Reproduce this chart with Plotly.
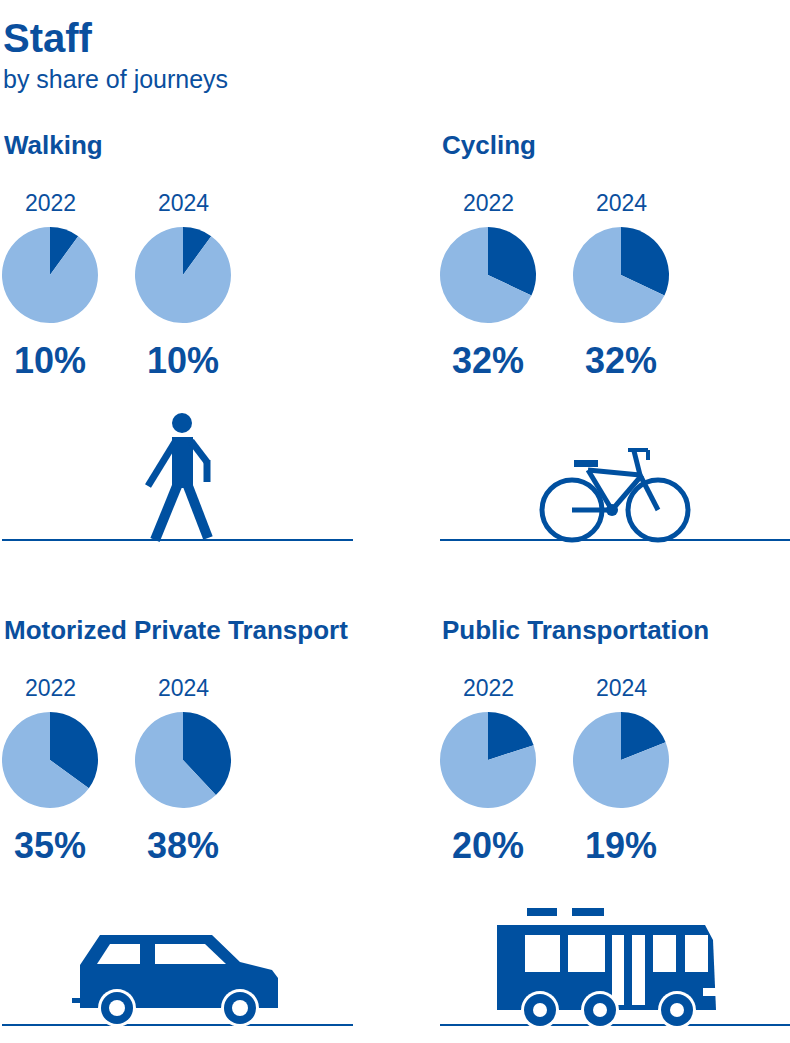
import plotly.graph_objects as go

W, H = 790, 1043
DARK = "#0050a0"
LIGHT = "#8fb8e4"
TXT = "#0a4f9e"
FONT = "Liberation Sans"

modes = ["Walking", "Cycling", "Motorized Private Transport", "Public Transportation"]
years = ["2022", "2024"]
share_2022 = [10, 32, 35, 20]
share_2024 = [10, 32, 38, 19]

col_x = [2, 440]
row_y = [145, 630]
pie_dx = [50, 183]
R = 48

fig = go.Figure()
ann = []
shapes = []

def dom(cx, cy):
    return dict(x=[(cx - R) / W, (cx + R) / W], y=[1 - (cy + R) / H, 1 - (cy - R) / H])

for i, m in enumerate(modes):
    bx, by = col_x[i % 2], row_y[i // 2]
    ann.append(dict(x=bx, y=by, text=f"<b>{m}</b>", font=dict(size=26, color=TXT, family=FONT),
                    xanchor="left", yanchor="middle", showarrow=False))
    for j, vals in enumerate([share_2022, share_2024]):
        cx = bx - 2 + pie_dx[j]
        cy = by + 130
        p = vals[i]
        fig.add_trace(go.Pie(values=[p, 100 - p], sort=False, direction="clockwise", rotation=0,
                             marker=dict(colors=[DARK, LIGHT], line=dict(width=0)),
                             textinfo="none", hoverinfo="skip", showlegend=False, domain=dom(cx, cy)))
        ann.append(dict(x=cx, y=by + 58, text=years[j], font=dict(size=23, color=TXT, family=FONT),
                        xanchor="center", yanchor="middle", showarrow=False))
        ann.append(dict(x=cx, y=by + 215, text=f"<b>{p}%</b>", font=dict(size=36, color=TXT, family=FONT),
                        xanchor="center", yanchor="middle", showarrow=False))

ann.append(dict(x=1, y=38, text="<b>Staff</b>", font=dict(size=40, color=TXT, family=FONT),
                xanchor="left", yanchor="middle", showarrow=False))
ann.append(dict(x=1, y=79, text="by share of journeys", font=dict(size=25, color=TXT, family=FONT),
                xanchor="left", yanchor="middle", showarrow=False))

def line(x0, y0, x1, y1, w=3):
    shapes.append(dict(type="line", x0=x0, y0=y0, x1=x1, y1=y1, xref="x", yref="y",
                       line=dict(color=DARK, width=w)))

def rect(x0, y0, x1, y1, c=DARK):
    shapes.append(dict(type="rect", x0=x0, y0=y0, x1=x1, y1=y1, xref="x", yref="y",
                       fillcolor=c, line=dict(width=0)))

def circ(cx, cy, r, fill=DARK, lw=0):
    shapes.append(dict(type="circle", x0=cx - r, y0=cy - r, x1=cx + r, y1=cy + r, xref="x", yref="y",
                       fillcolor=fill, line=dict(color=DARK, width=lw)))

def path(d, c=DARK):
    shapes.append(dict(type="path", path=d, xref="x", yref="y", fillcolor=c, line=dict(width=0)))

for y in (540, 1025):
    line(2, y, 353, y, 2)
    line(440, y, 790, y, 2)

# walker
circ(182, 423, 10)
path("M 172,437 L 193,437 L 193,488 L 172,488 Z")
line(175, 442, 148, 486, 7)
line(191, 441, 207, 462, 7)
line(207, 460, 207, 482, 7)
line(177, 486, 155, 540, 10)
line(188, 486, 208, 538, 10)

# bicycle
circ(572, 510, 30, fill="rgba(0,0,0,0)", lw=5)
circ(658, 510, 30, fill="rgba(0,0,0,0)", lw=5)
line(572, 510, 612, 510, 5)
line(612, 510, 588, 470, 5)
line(588, 470, 640, 475, 5)
line(612, 510, 642, 475, 5)
line(640, 475, 658, 510, 5)
line(640, 475, 634, 451, 5)
line(628, 450, 648, 450, 4)
line(648, 450, 648, 460, 4)
rect(574, 460, 598, 467)
circ(612, 510, 6)

# car
path("M 80,965 L 100,935 L 212,935 L 240,962 L 272,970 L 278,978 L 278,1008 L 80,1008 Z")
path("M 97,964 L 110,944 L 140,944 L 140,964 Z", "white")
path("M 155,944 L 205,944 L 226,964 L 155,964 Z", "white")
rect(72, 998, 82, 1003)
for cx in (117, 240):
    circ(cx, 1008, 19, fill="white", lw=0)
    circ(cx, 1008, 16)
    circ(cx, 1008, 8, fill="white")

# bus
rect(527, 908, 557, 916)
rect(572, 908, 604, 916)
path("M 497,925 L 705,925 L 713,940 L 716,1010 L 497,1010 Z")
rect(525, 935, 560, 972, "white")
rect(568, 935, 605, 972, "white")
rect(612, 935, 624, 1005, "white")
rect(632, 935, 645, 1005, "white")
rect(653, 935, 676, 972, "white")
rect(685, 935, 708, 972, "white")
rect(703, 988, 718, 996, "white")
for cx in (540, 600, 677):
    circ(cx, 1010, 19, fill="white")
    circ(cx, 1010, 16)
    circ(cx, 1010, 7, fill="white")

fig.update_layout(
    width=W, height=H, margin=dict(l=0, r=0, t=0, b=0),
    paper_bgcolor="white", plot_bgcolor="white",
    xaxis=dict(range=[0, W], visible=False, fixedrange=True),
    yaxis=dict(range=[H, 0], visible=False, fixedrange=True),
    annotations=ann, shapes=shapes,
)
fig.write_html("out.html", config={"displayModeBar": False},
               post_script="document.body.style.margin='0';document.body.style.overflow='hidden';")
